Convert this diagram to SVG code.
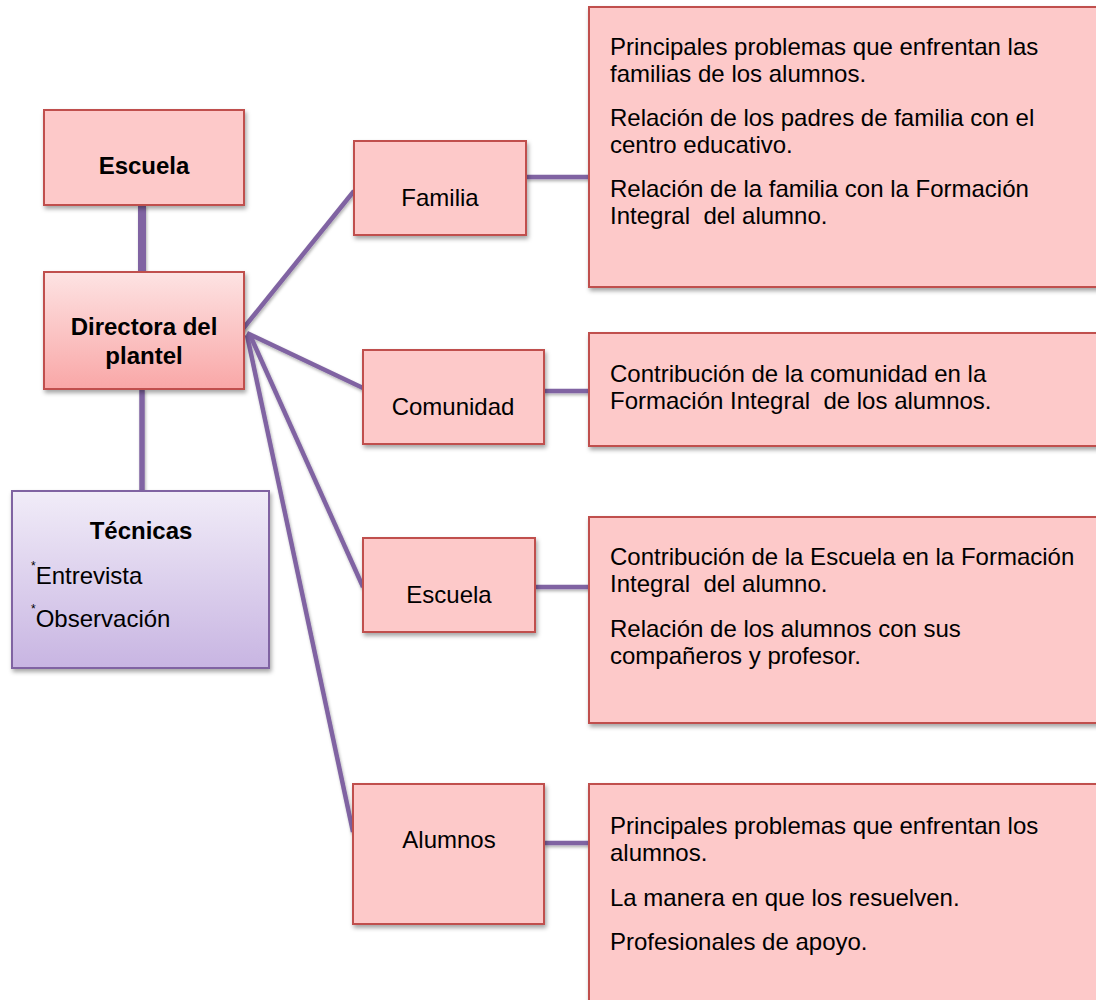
<svg xmlns="http://www.w3.org/2000/svg" width="1096" height="1000" viewBox="0 0 1096 1000">
<defs>
<linearGradient id="gDir" x1="0" y1="0" x2="0" y2="1">
<stop offset="0" stop-color="#fde3e3"/>
<stop offset="1" stop-color="#f9a7a7"/>
</linearGradient>
<linearGradient id="gTec" x1="0" y1="0" x2="0" y2="1">
<stop offset="0" stop-color="#f1ecf8"/>
<stop offset="1" stop-color="#c8b5e2"/>
</linearGradient>
<filter id="sh" x="-10%" y="-10%" width="130%" height="130%">
<feDropShadow dx="1.5" dy="3" stdDeviation="2" flood-color="#000" flood-opacity="0.35"/>
</filter>
<filter id="lsh" x="-20%" y="-20%" width="140%" height="140%">
<feDropShadow dx="1" dy="2" stdDeviation="1.5" flood-color="#000" flood-opacity="0.3"/>
</filter>
</defs>
<style>
.box{fill:#fdc9c9;stroke:#c0504d;stroke-width:2;filter:url(#sh)}
.dir{fill:url(#gDir);stroke:#c0504d;stroke-width:2;filter:url(#sh)}
.tec{fill:url(#gTec);stroke:#8064a2;stroke-width:2;filter:url(#sh)}
.c{stroke:#8064a2;fill:none;stroke-width:4.5;stroke-linecap:butt}
text{font-family:"Liberation Sans",Arial,sans-serif;font-size:24px;fill:#000;white-space:pre}
.b{font-weight:bold}
.m{text-anchor:middle}
</style>
<rect width="1096" height="1000" fill="#fff"/>
<g id="connectors" filter="url(#lsh)">
<line class="c" x1="142" y1="205" x2="142" y2="272" style="stroke-width:8"/>
<line class="c" x1="142" y1="389" x2="142" y2="491" style="stroke-width:5.5"/>
<line class="c" x1="242" y1="330" x2="354" y2="191"/>
<line class="c" x1="247" y1="333" x2="363" y2="388"/>
<line class="c" x1="250" y1="335" x2="363" y2="587"/>
<line class="c" x1="247" y1="335" x2="353" y2="832"/>
<line class="c" x1="526" y1="177" x2="590" y2="177"/>
<line class="c" x1="544" y1="391" x2="590" y2="391"/>
<line class="c" x1="535" y1="587" x2="590" y2="587"/>
<line class="c" x1="544" y1="843" x2="590" y2="843"/>
</g>
<g id="escuela-top">
<rect class="box" x="44" y="110" width="200" height="95"/>
<text class="b m" x="144" y="174">Escuela</text>
</g>
<g id="directora">
<rect class="dir" x="44" y="272" width="200" height="117"/>
<text class="b m" x="144" y="335">Directora del</text>
<text class="b m" x="144" y="364">plantel</text>
</g>
<g id="tecnicas">
<rect class="tec" x="12" y="491" width="257" height="177"/>
<text class="b m" x="141" y="539">Técnicas</text>
<text x="31" y="584"><tspan font-size="12" dy="-14">*</tspan><tspan dy="14">Entrevista</tspan></text>
<text x="31" y="627"><tspan font-size="12" dy="-14">*</tspan><tspan dy="14">Observación</tspan></text>
</g>
<g id="familia">
<rect class="box" x="354" y="141" width="172" height="94"/>
<text class="m" x="440" y="206">Familia</text>
</g>
<g id="comunidad">
<rect class="box" x="363" y="350" width="181" height="94"/>
<text class="m" x="453" y="415">Comunidad</text>
</g>
<g id="escuela">
<rect class="box" x="363" y="538" width="172" height="94"/>
<text class="m" x="449" y="603">Escuela</text>
</g>
<g id="alumnos">
<rect class="box" x="353" y="784" width="191" height="140"/>
<text class="m" x="449" y="848">Alumnos</text>
</g>
<g id="familia-detalle">
<rect class="box" x="589" y="7" width="520" height="280"/>
<text x="610" y="55">Principales problemas que enfrentan las</text>
<text x="610" y="82">familias de los alumnos.</text>
<text x="610" y="126">Relación de los padres de familia con el</text>
<text x="610" y="153">centro educativo.</text>
<text x="610" y="197">Relación de la familia con la Formación</text>
<text x="610" y="224">Integral  del alumno.</text>
</g>
<g id="comunidad-detalle">
<rect class="box" x="589" y="333" width="520" height="113"/>
<text x="610" y="382">Contribución de la comunidad en la</text>
<text x="610" y="409">Formación Integral  de los alumnos.</text>
</g>
<g id="escuela-detalle">
<rect class="box" x="589" y="517" width="520" height="206"/>
<text x="610" y="565">Contribución de la Escuela en la Formación</text>
<text x="610" y="592">Integral  del alumno.</text>
<text x="610" y="637">Relación de los alumnos con sus</text>
<text x="610" y="664">compañeros y profesor.</text>
</g>
<g id="alumnos-detalle">
<rect class="box" x="589" y="784" width="520" height="240"/>
<text x="610" y="834">Principales problemas que enfrentan los</text>
<text x="610" y="861">alumnos.</text>
<text x="610" y="906">La manera en que los resuelven.</text>
<text x="610" y="950">Profesionales de apoyo.</text>
</g>
</svg>
